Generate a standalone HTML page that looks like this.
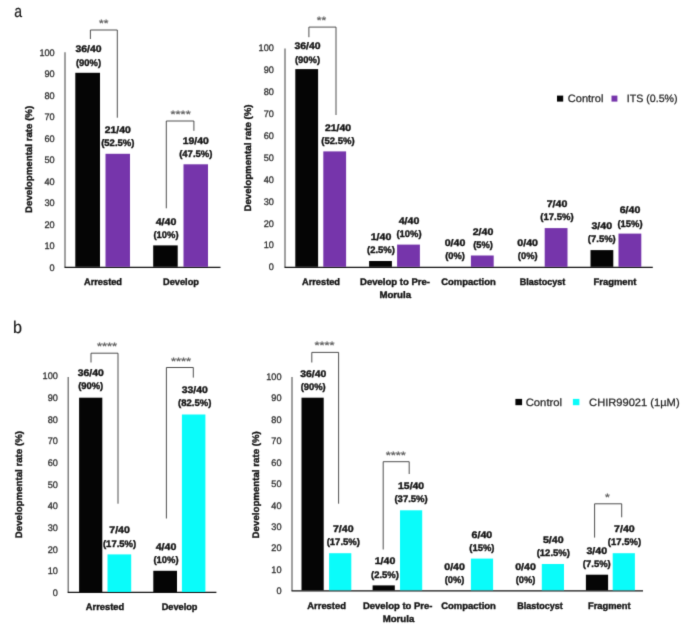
<!DOCTYPE html>
<html lang="en"><head><meta charset="utf-8"><title>Developmental rate charts</title>
<style>
html,body{margin:0;padding:0;background:#fff;}
body{width:685px;height:631px;overflow:hidden;}
svg{display:block;text-rendering:geometricPrecision;font-family:"Liberation Sans",sans-serif;}
.b{font-weight:bold;font-size:9.5px;fill:#141414;stroke:#141414;stroke-width:.38px;}
.t{font-size:9.5px;fill:#2e2e2e;stroke:#2e2e2e;stroke-width:.3px;}
.l{font-size:10.7px;fill:#262626;stroke:#262626;stroke-width:.25px;}
.s{font-size:11px;font-weight:bold;fill:#666666;}
.p{font-size:17px;fill:#1a1a1a;stroke:#1a1a1a;stroke-width:.2px;}
</style></head><body>
<svg width="685" height="631" viewBox="0 0 685 631">
<defs><filter id="soft" x="0" y="0" width="685" height="631" filterUnits="userSpaceOnUse" color-interpolation-filters="sRGB"><feConvolveMatrix order="3" kernelMatrix="0.0144 0.0912 0.0144 0.0912 0.5776 0.0912 0.0144 0.0912 0.0144" edgeMode="duplicate" preserveAlpha="true"/></filter></defs>
<g filter="url(#soft)">
<rect width="685" height="631" fill="#ffffff"/>
<text class="p" x="14.2" y="17.1" text-anchor="start" textLength="7.8" lengthAdjust="spacingAndGlyphs">a</text>
<text class="p" x="12.9" y="333.2" text-anchor="start" textLength="9.0" lengthAdjust="spacingAndGlyphs">b</text>
<path d="M65.0 52.3V267.3" fill="none" stroke="#606060" stroke-width="1.2"/>
<path d="M64.5 267.3H220.5" fill="none" stroke="#111" stroke-width="1.3"/>
<text class="t" x="54.7" y="270.7" text-anchor="end" textLength="5.1" lengthAdjust="spacingAndGlyphs">0</text>
<text class="t" x="54.7" y="249.2" text-anchor="end" textLength="10.2" lengthAdjust="spacingAndGlyphs">10</text>
<text class="t" x="54.7" y="227.7" text-anchor="end" textLength="10.2" lengthAdjust="spacingAndGlyphs">20</text>
<text class="t" x="54.7" y="206.2" text-anchor="end" textLength="10.2" lengthAdjust="spacingAndGlyphs">30</text>
<text class="t" x="54.7" y="184.7" text-anchor="end" textLength="10.2" lengthAdjust="spacingAndGlyphs">40</text>
<text class="t" x="54.7" y="163.2" text-anchor="end" textLength="10.2" lengthAdjust="spacingAndGlyphs">50</text>
<text class="t" x="54.7" y="141.7" text-anchor="end" textLength="10.2" lengthAdjust="spacingAndGlyphs">60</text>
<text class="t" x="54.7" y="120.2" text-anchor="end" textLength="10.2" lengthAdjust="spacingAndGlyphs">70</text>
<text class="t" x="54.7" y="98.7" text-anchor="end" textLength="10.2" lengthAdjust="spacingAndGlyphs">80</text>
<text class="t" x="54.7" y="77.2" text-anchor="end" textLength="10.2" lengthAdjust="spacingAndGlyphs">90</text>
<text class="t" x="54.7" y="55.7" text-anchor="end" textLength="15.299999999999999" lengthAdjust="spacingAndGlyphs">100</text>
<text class="b" transform="translate(32.2 159.4) rotate(-90)" text-anchor="middle" textLength="107.2" lengthAdjust="spacingAndGlyphs">Developmental rate (%)</text>
<rect x="75.3" y="72.8" width="24.7" height="194.0" fill="#050505"/>
<rect x="105.5" y="153.8" width="24.5" height="113.0" fill="#7635ab"/>
<rect x="153.2" y="245.4" width="24.5" height="21.4" fill="#050505"/>
<rect x="183.5" y="164.3" width="24.5" height="102.5" fill="#7635ab"/>
<text class="b" x="88.5" y="52.4" text-anchor="middle" textLength="26.1" lengthAdjust="spacingAndGlyphs">36/40</text>
<text class="b" x="88.5" y="65.6" text-anchor="middle" textLength="25.1" lengthAdjust="spacingAndGlyphs">(90%)</text>
<text class="b" x="117.8" y="132.6" text-anchor="middle" textLength="26.1" lengthAdjust="spacingAndGlyphs">21/40</text>
<text class="b" x="117.8" y="145.8" text-anchor="middle" textLength="33.3" lengthAdjust="spacingAndGlyphs">(52.5%)</text>
<text class="b" x="166.0" y="225.0" text-anchor="middle" textLength="20.7" lengthAdjust="spacingAndGlyphs">4/40</text>
<text class="b" x="166.0" y="238.2" text-anchor="middle" textLength="25.1" lengthAdjust="spacingAndGlyphs">(10%)</text>
<text class="b" x="195.8" y="144.2" text-anchor="middle" textLength="26.1" lengthAdjust="spacingAndGlyphs">19/40</text>
<text class="b" x="195.8" y="157.4" text-anchor="middle" textLength="33.3" lengthAdjust="spacingAndGlyphs">(47.5%)</text>
<path d="M90.4 39.0V30.0H117.3V117.7" fill="none" stroke="#3a3a3a" stroke-width="0.9"/>
<text class="s" x="103.8" y="27.3" text-anchor="middle" textLength="9.4" lengthAdjust="spacingAndGlyphs">**</text>
<path d="M166.3 208.3V121.0H193.9V130.8" fill="none" stroke="#3a3a3a" stroke-width="0.9"/>
<text class="s" x="180.6" y="117.8" text-anchor="middle" textLength="20.2" lengthAdjust="spacingAndGlyphs">****</text>
<text class="b" x="103.0" y="285.0" text-anchor="middle" textLength="38" lengthAdjust="spacingAndGlyphs">Arrested</text>
<text class="b" x="181.0" y="285.0" text-anchor="middle" textLength="36" lengthAdjust="spacingAndGlyphs">Develop</text>
<path d="M285.0 48.5V267.3" fill="none" stroke="#606060" stroke-width="1.2"/>
<path d="M284.5 267.3H652.8" fill="none" stroke="#111" stroke-width="1.3"/>
<text class="t" x="273.9" y="270.3" text-anchor="end" textLength="5.1" lengthAdjust="spacingAndGlyphs">0</text>
<text class="t" x="273.9" y="248.4" text-anchor="end" textLength="10.2" lengthAdjust="spacingAndGlyphs">10</text>
<text class="t" x="273.9" y="226.5" text-anchor="end" textLength="10.2" lengthAdjust="spacingAndGlyphs">20</text>
<text class="t" x="273.9" y="204.5" text-anchor="end" textLength="10.2" lengthAdjust="spacingAndGlyphs">30</text>
<text class="t" x="273.9" y="182.6" text-anchor="end" textLength="10.2" lengthAdjust="spacingAndGlyphs">40</text>
<text class="t" x="273.9" y="160.7" text-anchor="end" textLength="10.2" lengthAdjust="spacingAndGlyphs">50</text>
<text class="t" x="273.9" y="138.8" text-anchor="end" textLength="10.2" lengthAdjust="spacingAndGlyphs">60</text>
<text class="t" x="273.9" y="116.9" text-anchor="end" textLength="10.2" lengthAdjust="spacingAndGlyphs">70</text>
<text class="t" x="273.9" y="94.9" text-anchor="end" textLength="10.2" lengthAdjust="spacingAndGlyphs">80</text>
<text class="t" x="273.9" y="73.0" text-anchor="end" textLength="10.2" lengthAdjust="spacingAndGlyphs">90</text>
<text class="t" x="273.9" y="51.1" text-anchor="end" textLength="15.299999999999999" lengthAdjust="spacingAndGlyphs">100</text>
<text class="b" transform="translate(251.3 158.0) rotate(-90)" text-anchor="middle" textLength="107.2" lengthAdjust="spacingAndGlyphs">Developmental rate (%)</text>
<rect x="295.3" y="69.1" width="22.8" height="197.7" fill="#050505"/>
<rect x="323.3" y="151.4" width="22.8" height="115.4" fill="#7635ab"/>
<rect x="369.1" y="261.0" width="22.8" height="5.8" fill="#050505"/>
<rect x="397.1" y="244.6" width="22.8" height="22.2" fill="#7635ab"/>
<rect x="470.9" y="255.5" width="22.8" height="11.3" fill="#7635ab"/>
<rect x="544.7" y="228.1" width="22.8" height="38.7" fill="#7635ab"/>
<rect x="590.5" y="250.1" width="22.8" height="16.7" fill="#050505"/>
<rect x="618.5" y="233.6" width="22.8" height="33.2" fill="#7635ab"/>
<text class="b" x="307.5" y="49.3" text-anchor="middle" textLength="26.1" lengthAdjust="spacingAndGlyphs">36/40</text>
<text class="b" x="307.5" y="62.5" text-anchor="middle" textLength="25.1" lengthAdjust="spacingAndGlyphs">(90%)</text>
<text class="b" x="338.0" y="131.2" text-anchor="middle" textLength="26.1" lengthAdjust="spacingAndGlyphs">21/40</text>
<text class="b" x="338.0" y="144.4" text-anchor="middle" textLength="33.3" lengthAdjust="spacingAndGlyphs">(52.5%)</text>
<text class="b" x="381.0" y="240.1" text-anchor="middle" textLength="20.7" lengthAdjust="spacingAndGlyphs">1/40</text>
<text class="b" x="381.0" y="253.3" text-anchor="middle" textLength="27.9" lengthAdjust="spacingAndGlyphs">(2.5%)</text>
<text class="b" x="409.0" y="224.2" text-anchor="middle" textLength="20.7" lengthAdjust="spacingAndGlyphs">4/40</text>
<text class="b" x="409.0" y="237.4" text-anchor="middle" textLength="25.1" lengthAdjust="spacingAndGlyphs">(10%)</text>
<text class="b" x="455.0" y="245.9" text-anchor="middle" textLength="20.7" lengthAdjust="spacingAndGlyphs">0/40</text>
<text class="b" x="455.0" y="259.1" text-anchor="middle" textLength="19.7" lengthAdjust="spacingAndGlyphs">(0%)</text>
<text class="b" x="483.0" y="234.6" text-anchor="middle" textLength="20.7" lengthAdjust="spacingAndGlyphs">2/40</text>
<text class="b" x="483.0" y="247.8" text-anchor="middle" textLength="19.7" lengthAdjust="spacingAndGlyphs">(5%)</text>
<text class="b" x="527.7" y="245.9" text-anchor="middle" textLength="20.7" lengthAdjust="spacingAndGlyphs">0/40</text>
<text class="b" x="527.7" y="259.1" text-anchor="middle" textLength="19.7" lengthAdjust="spacingAndGlyphs">(0%)</text>
<text class="b" x="557.0" y="206.6" text-anchor="middle" textLength="20.7" lengthAdjust="spacingAndGlyphs">7/40</text>
<text class="b" x="557.0" y="219.8" text-anchor="middle" textLength="33.3" lengthAdjust="spacingAndGlyphs">(17.5%)</text>
<text class="b" x="601.8" y="229.1" text-anchor="middle" textLength="20.7" lengthAdjust="spacingAndGlyphs">3/40</text>
<text class="b" x="601.8" y="242.3" text-anchor="middle" textLength="27.9" lengthAdjust="spacingAndGlyphs">(7.5%)</text>
<text class="b" x="630.0" y="213.3" text-anchor="middle" textLength="20.7" lengthAdjust="spacingAndGlyphs">6/40</text>
<text class="b" x="630.0" y="226.5" text-anchor="middle" textLength="25.1" lengthAdjust="spacingAndGlyphs">(15%)</text>
<path d="M308.9 37.2V27.1H336.0V115.0" fill="none" stroke="#3a3a3a" stroke-width="0.9"/>
<text class="s" x="321.5" y="24.1" text-anchor="middle" textLength="9.4" lengthAdjust="spacingAndGlyphs">**</text>
<text class="b" x="321.0" y="284.7" text-anchor="middle" textLength="38" lengthAdjust="spacingAndGlyphs">Arrested</text>
<text class="b" x="395.0" y="284.7" text-anchor="middle" textLength="70" lengthAdjust="spacingAndGlyphs">Develop to Pre-</text>
<text class="b" x="395.2" y="297.7" text-anchor="middle" textLength="31.6" lengthAdjust="spacingAndGlyphs">Morula</text>
<text class="b" x="468.5" y="284.7" text-anchor="middle" textLength="54.5" lengthAdjust="spacingAndGlyphs">Compaction</text>
<text class="b" x="542.5" y="284.7" text-anchor="middle" textLength="45.7" lengthAdjust="spacingAndGlyphs">Blastocyst</text>
<text class="b" x="615.0" y="284.7" text-anchor="middle" textLength="43" lengthAdjust="spacingAndGlyphs">Fragment</text>
<rect x="557.0" y="95.6" width="6.2" height="6.0" fill="#050505"/>
<text class="l" x="567.8" y="102.2" text-anchor="start" textLength="35.6" lengthAdjust="spacingAndGlyphs">Control</text>
<rect x="611.5" y="95.6" width="5.9" height="6.0" fill="#7635ab"/>
<text class="l" x="626.8" y="102.2" text-anchor="start" textLength="50.8" lengthAdjust="spacingAndGlyphs">ITS (0.5%)</text>
<path d="M68.2 377.0V592.4" fill="none" stroke="#606060" stroke-width="1.2"/>
<path d="M67.7 592.4H216.4" fill="none" stroke="#111" stroke-width="1.3"/>
<text class="t" x="57.9" y="595.8" text-anchor="end" textLength="5.1" lengthAdjust="spacingAndGlyphs">0</text>
<text class="t" x="57.9" y="574.2" text-anchor="end" textLength="10.2" lengthAdjust="spacingAndGlyphs">10</text>
<text class="t" x="57.9" y="552.5" text-anchor="end" textLength="10.2" lengthAdjust="spacingAndGlyphs">20</text>
<text class="t" x="57.9" y="530.9" text-anchor="end" textLength="10.2" lengthAdjust="spacingAndGlyphs">30</text>
<text class="t" x="57.9" y="509.2" text-anchor="end" textLength="10.2" lengthAdjust="spacingAndGlyphs">40</text>
<text class="t" x="57.9" y="487.6" text-anchor="end" textLength="10.2" lengthAdjust="spacingAndGlyphs">50</text>
<text class="t" x="57.9" y="466.0" text-anchor="end" textLength="10.2" lengthAdjust="spacingAndGlyphs">60</text>
<text class="t" x="57.9" y="444.3" text-anchor="end" textLength="10.2" lengthAdjust="spacingAndGlyphs">70</text>
<text class="t" x="57.9" y="422.7" text-anchor="end" textLength="10.2" lengthAdjust="spacingAndGlyphs">80</text>
<text class="t" x="57.9" y="401.0" text-anchor="end" textLength="10.2" lengthAdjust="spacingAndGlyphs">90</text>
<text class="t" x="57.9" y="379.4" text-anchor="end" textLength="15.299999999999999" lengthAdjust="spacingAndGlyphs">100</text>
<text class="b" transform="translate(21.8 484.6) rotate(-90)" text-anchor="middle" textLength="107.2" lengthAdjust="spacingAndGlyphs">Developmental rate (%)</text>
<rect x="79.1" y="397.7" width="23.2" height="194.3" fill="#050505"/>
<rect x="107.5" y="554.4" width="23.7" height="37.6" fill="#0afcfa"/>
<rect x="153.3" y="570.8" width="23.7" height="21.2" fill="#050505"/>
<rect x="181.9" y="414.5" width="23.5" height="177.5" fill="#0afcfa"/>
<text class="b" x="90.7" y="375.6" text-anchor="middle" textLength="26.1" lengthAdjust="spacingAndGlyphs">36/40</text>
<text class="b" x="90.7" y="388.8" text-anchor="middle" textLength="25.1" lengthAdjust="spacingAndGlyphs">(90%)</text>
<text class="b" x="119.6" y="533.4" text-anchor="middle" textLength="20.7" lengthAdjust="spacingAndGlyphs">7/40</text>
<text class="b" x="119.6" y="546.6" text-anchor="middle" textLength="33.3" lengthAdjust="spacingAndGlyphs">(17.5%)</text>
<text class="b" x="166.0" y="549.8" text-anchor="middle" textLength="20.7" lengthAdjust="spacingAndGlyphs">4/40</text>
<text class="b" x="166.0" y="563.0" text-anchor="middle" textLength="25.1" lengthAdjust="spacingAndGlyphs">(10%)</text>
<text class="b" x="194.7" y="392.8" text-anchor="middle" textLength="26.1" lengthAdjust="spacingAndGlyphs">33/40</text>
<text class="b" x="194.7" y="406.0" text-anchor="middle" textLength="33.3" lengthAdjust="spacingAndGlyphs">(82.5%)</text>
<path d="M91.0 362.5V353.2H118.0V503.7" fill="none" stroke="#3a3a3a" stroke-width="0.9"/>
<text class="s" x="107.0" y="349.7" text-anchor="middle" textLength="20.2" lengthAdjust="spacingAndGlyphs">****</text>
<path d="M166.4 518.5V367.5H193.3V377.6" fill="none" stroke="#3a3a3a" stroke-width="0.9"/>
<text class="s" x="181.0" y="364.5" text-anchor="middle" textLength="20.2" lengthAdjust="spacingAndGlyphs">****</text>
<text class="b" x="105.0" y="609.9" text-anchor="middle" textLength="38.4" lengthAdjust="spacingAndGlyphs">Arrested</text>
<text class="b" x="179.6" y="609.9" text-anchor="middle" textLength="35.8" lengthAdjust="spacingAndGlyphs">Develop</text>
<path d="M292.0 377.0V590.8" fill="none" stroke="#606060" stroke-width="1.2"/>
<path d="M291.5 590.8H643.0" fill="none" stroke="#111" stroke-width="1.3"/>
<text class="t" x="281.5" y="594.3" text-anchor="end" textLength="5.1" lengthAdjust="spacingAndGlyphs">0</text>
<text class="t" x="281.5" y="572.8" text-anchor="end" textLength="10.2" lengthAdjust="spacingAndGlyphs">10</text>
<text class="t" x="281.5" y="551.4" text-anchor="end" textLength="10.2" lengthAdjust="spacingAndGlyphs">20</text>
<text class="t" x="281.5" y="529.9" text-anchor="end" textLength="10.2" lengthAdjust="spacingAndGlyphs">30</text>
<text class="t" x="281.5" y="508.5" text-anchor="end" textLength="10.2" lengthAdjust="spacingAndGlyphs">40</text>
<text class="t" x="281.5" y="487.0" text-anchor="end" textLength="10.2" lengthAdjust="spacingAndGlyphs">50</text>
<text class="t" x="281.5" y="465.5" text-anchor="end" textLength="10.2" lengthAdjust="spacingAndGlyphs">60</text>
<text class="t" x="281.5" y="444.1" text-anchor="end" textLength="10.2" lengthAdjust="spacingAndGlyphs">70</text>
<text class="t" x="281.5" y="422.6" text-anchor="end" textLength="10.2" lengthAdjust="spacingAndGlyphs">80</text>
<text class="t" x="281.5" y="401.2" text-anchor="end" textLength="10.2" lengthAdjust="spacingAndGlyphs">90</text>
<text class="t" x="281.5" y="379.7" text-anchor="end" textLength="15.299999999999999" lengthAdjust="spacingAndGlyphs">100</text>
<text class="b" transform="translate(258.7 484.8) rotate(-90)" text-anchor="middle" textLength="107.2" lengthAdjust="spacingAndGlyphs">Developmental rate (%)</text>
<rect x="301.5" y="397.7" width="22.2" height="192.6" fill="#050505"/>
<rect x="329.1" y="553.2" width="22.2" height="37.1" fill="#0afcfa"/>
<rect x="372.6" y="585.4" width="22.2" height="4.9" fill="#050505"/>
<rect x="400.0" y="510.3" width="22.2" height="80.0" fill="#0afcfa"/>
<rect x="470.9" y="558.6" width="22.2" height="31.7" fill="#0afcfa"/>
<rect x="541.8" y="564.0" width="22.2" height="26.3" fill="#0afcfa"/>
<rect x="585.9" y="574.7" width="22.2" height="15.6" fill="#050505"/>
<rect x="612.7" y="553.2" width="22.2" height="37.1" fill="#0afcfa"/>
<text class="b" x="313.2" y="376.9" text-anchor="middle" textLength="26.1" lengthAdjust="spacingAndGlyphs">36/40</text>
<text class="b" x="313.2" y="390.1" text-anchor="middle" textLength="25.1" lengthAdjust="spacingAndGlyphs">(90%)</text>
<text class="b" x="343.3" y="531.8" text-anchor="middle" textLength="20.7" lengthAdjust="spacingAndGlyphs">7/40</text>
<text class="b" x="343.3" y="545.0" text-anchor="middle" textLength="33.3" lengthAdjust="spacingAndGlyphs">(17.5%)</text>
<text class="b" x="385.0" y="564.4" text-anchor="middle" textLength="20.7" lengthAdjust="spacingAndGlyphs">1/40</text>
<text class="b" x="385.0" y="577.6" text-anchor="middle" textLength="27.9" lengthAdjust="spacingAndGlyphs">(2.5%)</text>
<text class="b" x="411.1" y="489.1" text-anchor="middle" textLength="26.1" lengthAdjust="spacingAndGlyphs">15/40</text>
<text class="b" x="411.1" y="502.3" text-anchor="middle" textLength="33.3" lengthAdjust="spacingAndGlyphs">(37.5%)</text>
<text class="b" x="454.6" y="569.6" text-anchor="middle" textLength="20.7" lengthAdjust="spacingAndGlyphs">0/40</text>
<text class="b" x="454.6" y="582.8" text-anchor="middle" textLength="19.7" lengthAdjust="spacingAndGlyphs">(0%)</text>
<text class="b" x="481.9" y="537.6" text-anchor="middle" textLength="20.7" lengthAdjust="spacingAndGlyphs">6/40</text>
<text class="b" x="481.9" y="550.8" text-anchor="middle" textLength="25.1" lengthAdjust="spacingAndGlyphs">(15%)</text>
<text class="b" x="525.5" y="569.6" text-anchor="middle" textLength="20.7" lengthAdjust="spacingAndGlyphs">0/40</text>
<text class="b" x="525.5" y="582.8" text-anchor="middle" textLength="19.7" lengthAdjust="spacingAndGlyphs">(0%)</text>
<text class="b" x="553.3" y="542.9" text-anchor="middle" textLength="20.7" lengthAdjust="spacingAndGlyphs">5/40</text>
<text class="b" x="553.3" y="556.1" text-anchor="middle" textLength="33.3" lengthAdjust="spacingAndGlyphs">(12.5%)</text>
<text class="b" x="596.8" y="553.6" text-anchor="middle" textLength="20.7" lengthAdjust="spacingAndGlyphs">3/40</text>
<text class="b" x="596.8" y="566.8" text-anchor="middle" textLength="27.9" lengthAdjust="spacingAndGlyphs">(7.5%)</text>
<text class="b" x="624.4" y="532.1" text-anchor="middle" textLength="20.7" lengthAdjust="spacingAndGlyphs">7/40</text>
<text class="b" x="624.4" y="545.3" text-anchor="middle" textLength="33.3" lengthAdjust="spacingAndGlyphs">(17.5%)</text>
<path d="M311.8 362.5V352.4H338.6V503.7" fill="none" stroke="#3a3a3a" stroke-width="0.9"/>
<text class="s" x="324.5" y="348.9" text-anchor="middle" textLength="20.2" lengthAdjust="spacingAndGlyphs">****</text>
<path d="M383.2 549.5V461.7H409.2V474.0" fill="none" stroke="#3a3a3a" stroke-width="0.9"/>
<text class="s" x="395.8" y="459.0" text-anchor="middle" textLength="20.2" lengthAdjust="spacingAndGlyphs">****</text>
<path d="M594.6 537.6V503.8H621.7V517.3" fill="none" stroke="#3a3a3a" stroke-width="0.9"/>
<text class="s" x="607.5" y="501.1" text-anchor="middle" textLength="4.8" lengthAdjust="spacingAndGlyphs">*</text>
<text class="b" x="326.6" y="608.7" text-anchor="middle" textLength="38.6" lengthAdjust="spacingAndGlyphs">Arrested</text>
<text class="b" x="397.7" y="608.7" text-anchor="middle" textLength="69.5" lengthAdjust="spacingAndGlyphs">Develop to Pre-</text>
<text class="b" x="398.5" y="621.8" text-anchor="middle" textLength="31.6" lengthAdjust="spacingAndGlyphs">Morula</text>
<text class="b" x="468.5" y="608.7" text-anchor="middle" textLength="54.7" lengthAdjust="spacingAndGlyphs">Compaction</text>
<text class="b" x="540.0" y="608.7" text-anchor="middle" textLength="45.7" lengthAdjust="spacingAndGlyphs">Blastocyst</text>
<text class="b" x="609.3" y="608.7" text-anchor="middle" textLength="42.6" lengthAdjust="spacingAndGlyphs">Fragment</text>
<rect x="515.4" y="398.9" width="6.7" height="6.3" fill="#050505"/>
<text class="l" x="525.7" y="405.9" text-anchor="start" textLength="36.4" lengthAdjust="spacingAndGlyphs">Control</text>
<rect x="572.9" y="398.9" width="6.5" height="6.3" fill="#0afcfa"/>
<text class="l" x="589.1" y="405.9" text-anchor="start" textLength="90.5" lengthAdjust="spacingAndGlyphs">CHIR99021 (1µM)</text>
</g>
</svg>
</body></html>
